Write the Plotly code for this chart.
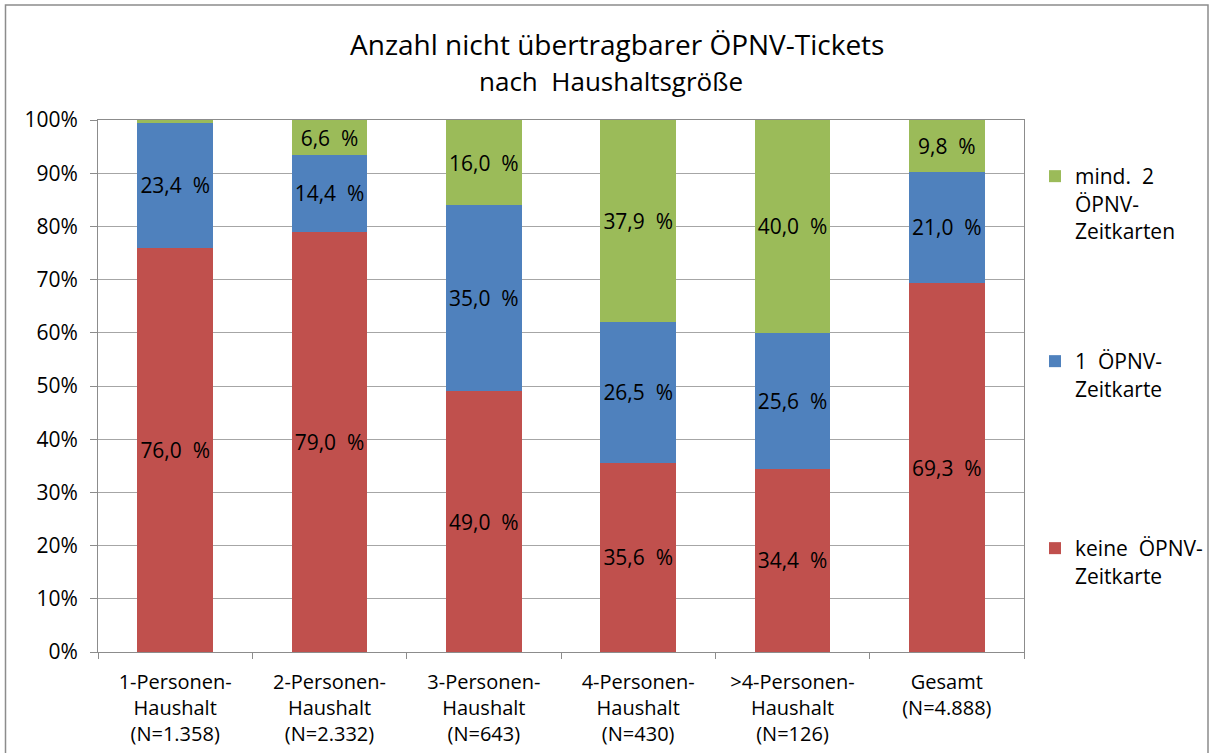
import plotly.graph_objects as go

categories = ["1-Personen-<br>Haushalt<br>(N=1.358)", "2-Personen-<br>Haushalt<br>(N=2.332)",
              "3-Personen-<br>Haushalt<br>(N=643)", "4-Personen-<br>Haushalt<br>(N=430)",
              ">4-Personen-<br>Haushalt<br>(N=126)", "Gesamt<br>(N=4.888)"]
keine = [76.0, 79.0, 49.0, 35.6, 34.4, 69.3]
eine = [23.4, 14.4, 35.0, 26.5, 25.6, 21.0]
mind2 = [0.6, 6.6, 16.0, 37.9, 40.0, 9.8]
series_names = ["keine  ÖPNV-<br>Zeitkarte", "1  ÖPNV-<br>Zeitkarte", "mind.  2<br>ÖPNV-<br>Zeitkarten"]
colors = ["#C0504D", "#4F81BD", "#9BBB59"]
title_text = "Anzahl nicht übertragbarer ÖPNV-Tickets"
subtitle_text = "nach  Haushaltsgröße"

FONT = "Open Sans"

def lab(v, min_show=2.0):
    return [("%.1f" % x).replace(".", ",") + "  %" if x >= min_show else "" for x in v]

W, H = 1211, 753
L, R, T, B = 98, 187, 120, 101
pw, ph = W - L - R, H - T - B

def py(y_px):
    return (H - B - y_px) / ph

def px(x_px):
    return (x_px - L) / pw

legend_keys = ["legend3", "legend2", "legend"]
fig = go.Figure()
for vals, name, col, lg in zip([keine, eine, mind2], series_names, colors, legend_keys):
    fig.add_trace(go.Bar(
        x=categories, y=vals, name=name, marker=dict(color=col, line=dict(width=0)),
        text=lab(vals), textposition="inside", insidetextanchor="middle", textangle=0,
        textfont=dict(family=FONT, size=21, color="black"),
        width=0.49, legend=lg,
    ))

legend_common = dict(xanchor="left", yanchor="top", valign="top",
                     font=dict(family=FONT, size=21, color="black"),
                     bgcolor="rgba(0,0,0,0)", borderwidth=0)
fig.update_layout(
    width=W, height=H, barmode="stack",
    paper_bgcolor="white", plot_bgcolor="white",
    margin=dict(l=L, r=R, t=T, b=B, autoexpand=False),
    font=dict(family=FONT, size=19, color="black"),
    uniformtext=dict(minsize=8, mode="show"),
    legend=dict(x=px(1035), y=py(156), **legend_common),
    legend2=dict(x=px(1035), y=py(341), **legend_common),
    legend3=dict(x=px(1035), y=py(528), **legend_common),
    showlegend=True,
)
fig.add_annotation(text=title_text, xref="paper", yref="paper", x=px(617), y=py(44),
                   xanchor="center", yanchor="middle", showarrow=False,
                   font=dict(family=FONT, size=28, color="black"))
fig.add_annotation(text=subtitle_text, xref="paper", yref="paper", x=px(611), y=py(81),
                   xanchor="center", yanchor="middle", showarrow=False,
                   font=dict(family=FONT, size=26, color="black"))

fig.update_xaxes(showline=True, linecolor="#8C8C8C", linewidth=1, mirror=True,
                 ticks="outside", tickson="boundaries", ticklen=6, tickcolor="#8C8C8C",
                 ticklabelstandoff=12,
                 showgrid=False, tickfont=dict(family=FONT, size=20, color="black"))
fig.update_yaxes(range=[0, 100], dtick=10, ticksuffix="%", showline=True, linecolor="#8C8C8C",
                 linewidth=1, mirror=True, ticks="outside", ticklen=7, tickcolor="#8C8C8C",
                 ticklabelstandoff=8,
                 showgrid=True, gridcolor="#A6A6A6", gridwidth=1, zeroline=False,
                 tickfont=dict(family=FONT, size=21, color="black"))

# outer chart border
fig.add_shape(type="rect", xref="paper", yref="paper",
              x0=px(5.5), x1=px(1208), y0=py(770), y1=py(5),
              line=dict(color="#8C8C8C", width=1.5), fillcolor="rgba(0,0,0,0)", layer="below")

fig.write_html("out.html", config={"displayModeBar": False},
               post_script="document.body.style.margin='0px';")
